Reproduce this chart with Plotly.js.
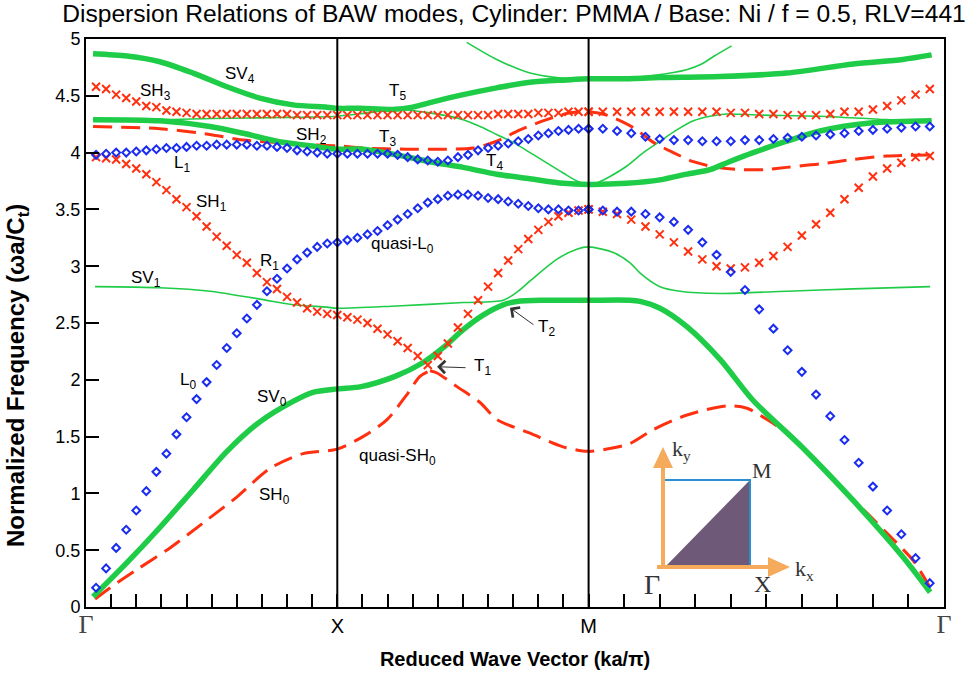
<!DOCTYPE html>
<html>
<head>
<meta charset="utf-8">
<script src="https://cdn.plot.ly/plotly-3.0.1.min.js"></script>
<style>html,body{margin:0;padding:0;background:#fff}</style>
</head>
<body>
<div id="chart" style="width:969px;height:677px"></div>
<script>
// Path coordinate along the irreducible zone: Γ = 0, X = 1, M = 2, back to Γ at 2 + √2
const K_END = 2 + Math.SQRT2;

// ---- Computed eigenfrequencies (markers): 25 samples per path segment ----
// SH3 branch (red crosses)
const sh3_GX = [4.58,4.56,4.51,4.48,4.45,4.41,4.40,4.37,4.36,4.35,4.34,4.34,4.34,4.34,4.34,4.34,4.34,4.34,4.34,4.34,4.33,4.33,4.33,4.33,4.33];
const sh3_XM = [4.33,4.33,4.33,4.33,4.33,4.33,4.33,4.33,4.33,4.33,4.33,4.33,4.33,4.33,4.33,4.34,4.34,4.34,4.34,4.35,4.35,4.35,4.36,4.36,4.36];
const sh3_MG = [4.36,4.36,4.36,4.36,4.36,4.36,4.36,4.36,4.36,4.36,4.35,4.35,4.34,4.34,4.33,4.33,4.33,4.34,4.36,4.36,4.38,4.41,4.46,4.51,4.56];
// SH1 branch (red crosses)
const sh1_GX = [3.96,3.95,3.94,3.90,3.86,3.81,3.74,3.67,3.59,3.52,3.44,3.35,3.26,3.18,3.10,3.03,2.94,2.86,2.80,2.73,2.68,2.63,2.60,2.58,2.57];
const sh1_XM = [2.55,2.53,2.50,2.45,2.40,2.34,2.28,2.21,2.13,2.21,2.32,2.46,2.58,2.70,2.82,2.94,3.05,3.15,3.24,3.32,3.39,3.44,3.47,3.49,3.50];
const sh1_MG = [3.50,3.48,3.46,3.41,3.35,3.28,3.21,3.13,3.06,3.00,2.98,2.99,3.03,3.09,3.17,3.27,3.37,3.47,3.59,3.69,3.79,3.86,3.91,3.96,3.97];
// L1 branch (blue diamonds)
const l1_GX = [3.98,3.99,4.00,4.00,4.01,4.02,4.03,4.04,4.04,4.05,4.06,4.06,4.07,4.07,4.07,4.07,4.06,4.06,4.05,4.04,4.02,4.01,4.00,3.99,3.99];
const l1_XM = [3.99,3.99,3.99,3.99,3.99,3.98,3.96,3.94,3.93,3.92,3.93,3.96,3.98,4.02,4.04,4.06,4.08,4.10,4.12,4.15,4.17,4.19,4.20,4.21,4.21];
const l1_MG = [4.21,4.21,4.19,4.17,4.14,4.12,4.11,4.11,4.10,4.10,4.10,4.11,4.11,4.12,4.13,4.14,4.15,4.16,4.17,4.19,4.20,4.21,4.22,4.23,4.23];
// L0 / quasi-L0 branch (blue diamonds)
const l0_GX = [0.17,0.34,0.52,0.68,0.85,1.02,1.19,1.35,1.52,1.67,1.83,1.98,2.13,2.28,2.41,2.54,2.66,2.78,2.89,2.98,3.06,3.12,3.17,3.20,3.21];
const l0_XM = [3.23,3.25,3.28,3.31,3.36,3.41,3.46,3.51,3.56,3.59,3.62,3.63,3.63,3.62,3.60,3.59,3.57,3.55,3.53,3.51,3.50,3.50,3.49,3.49,3.50];
const l0_MG = [3.50,3.49,3.48,3.48,3.46,3.43,3.39,3.32,3.21,3.10,2.95,2.79,2.62,2.45,2.26,2.07,1.87,1.68,1.47,1.27,1.06,0.85,0.64,0.43,0.21];

// ---- Continuous branches (k, f) ----
const sv0_k = [0.028,0.163,0.294,0.426,0.561,0.692,0.824,0.903,1.0,1.095,1.23,1.34,1.42,1.50,1.58,1.66,1.715,1.83,2.0,2.165,2.205,2.284,2.39,2.523,2.654,2.853,3.052,3.251,3.359];
const sv0_f = [0.09,0.39,0.70,1.03,1.37,1.63,1.81,1.89,1.92,1.94,2.03,2.15,2.28,2.44,2.57,2.66,2.69,2.70,2.70,2.70,2.69,2.63,2.47,2.18,1.82,1.40,0.94,0.44,0.13];

const sv4_k = [0.028,0.163,0.294,0.426,0.561,0.692,0.824,0.959,1.0,1.09,1.22,1.30,1.369,1.501,1.634,1.767,1.91,2.0,2.125,2.284,2.523,2.788,3.053,3.25,3.365];
const sv4_f = [4.87,4.85,4.80,4.70,4.58,4.48,4.42,4.40,4.39,4.39,4.38,4.40,4.44,4.51,4.57,4.62,4.64,4.65,4.65,4.66,4.67,4.70,4.78,4.82,4.86];

const t4_k = [0.028,0.294,0.493,0.626,0.759,0.891,1.0,1.103,1.236,1.369,1.501,1.634,1.767,1.899,2.0,2.15,2.284,2.39,2.483,2.56,2.655,2.788,2.921,3.12,3.365];
const t4_f = [4.29,4.28,4.23,4.17,4.10,4.06,4.03,4.03,3.98,3.92,3.87,3.81,3.77,3.73,3.72,3.73,3.76,3.81,3.85,3.92,4.00,4.10,4.19,4.26,4.28];

const t5_k = [0.028,0.3,0.5,0.8,1.0,1.12,1.236,1.369,1.501,1.568,1.634,1.70,1.767,1.833,1.899,1.953,2.0,2.04,2.085,2.151,2.218,2.284,2.351,2.417,2.483,2.55,2.682,2.921,3.186,3.365];
const t5_f = [4.29,4.29,4.30,4.31,4.32,4.35,4.38,4.35,4.29,4.23,4.16,4.09,4.00,3.91,3.82,3.75,3.72,3.74,3.79,3.88,4.00,4.10,4.20,4.28,4.32,4.34,4.33,4.32,4.29,4.28];

const top_k = [1.515,1.634,1.767,1.873,2.0,2.13,2.26,2.39,2.45,2.50,2.569];
const top_f = [4.97,4.82,4.70,4.66,4.65,4.655,4.68,4.73,4.78,4.85,4.94];

const sv1_k = [0.036,0.294,0.493,0.692,0.825,0.958,1.0,1.236,1.501,1.66,1.72,1.767,1.873,1.953,2.0,2.098,2.165,2.205,2.284,2.364,2.523,2.788,3.053,3.359];
const sv1_f = [2.82,2.81,2.78,2.71,2.66,2.64,2.63,2.65,2.68,2.70,2.78,2.87,3.06,3.15,3.17,3.12,3.03,2.94,2.82,2.78,2.76,2.78,2.80,2.82];

// SH0 rising to T1, then quasi-SH0 beyond it (dashed)
const sh0_k = [0.036,0.096,0.203,0.334,0.466,0.601,0.732,0.864,0.999,1.102,1.198,1.277,1.329,1.369];
const sh0_f = [0.07,0.17,0.33,0.52,0.74,0.97,1.22,1.35,1.39,1.50,1.65,1.87,2.03,2.08];
const qsh0_k = [1.369,1.397,1.476,1.568,1.635,1.767,1.898,1.998,2.073,2.165,2.256,2.392,2.551,2.63,2.71,2.79,2.921,3.052,3.187,3.291,3.359];
const qsh0_f = [2.08,2.06,1.94,1.80,1.65,1.53,1.41,1.37,1.39,1.44,1.56,1.69,1.77,1.75,1.65,1.53,1.25,0.95,0.65,0.41,0.17];

const sh2_k = [0.028,0.294,0.493,0.625,0.76,0.891,1.0,1.103,1.276,1.435,1.541,1.634,1.727,1.833,1.926,2.0,2.072,2.178,2.258,2.337,2.417,2.51,2.616,2.70,2.788,2.921,3.053,3.186,3.365];
const sh2_f = [4.23,4.21,4.16,4.11,4.09,4.07,4.06,4.04,4.03,4.03,4.04,4.10,4.20,4.29,4.35,4.36,4.33,4.22,4.09,4.00,3.92,3.87,3.85,3.85,3.87,3.90,3.94,3.97,3.98];

// ---- Axis tick labels ----
const symGamma = '<span style="font-family:\'Liberation Serif\',serif;font-size:26px;color:#444">Γ</span>';
const pointLabels = {0: symGamma, 10: 'X', 20: 'M', 30: symGamma};

// sample positions of the computed eigenfrequencies along the path
function sampleK() {
  const k = [];
  for (let i = 1; i <= 25; i++) k.push(0.04 * i);
  for (let i = 1; i <= 25; i++) k.push(1 + 0.04 * i);
  for (let i = 0; i < 25; i++) k.push(2 + Math.SQRT2 * 0.04 * i);
  return k;
}
const kS = sampleK();

// minor ticks: ten divisions per segment
const xTickVals = [], xTickText = [];
for (let i = 0; i <= 30; i++) {
  let v;
  if (i <= 20) v = i * 0.1;
  else v = 2 + Math.SQRT2 * 0.1 * (i - 20);
  xTickVals.push(v);
  xTickText.push(pointLabels[i] || '');
}

const RED = '#ff3010', BLUE = '#1a2cf0', GREEN = '#1fcc47';

function line(k, f, color, width, dash) {
  return {x: k, y: f, type: 'scatter', mode: 'lines', hoverinfo: 'skip',
          line: {color: color, width: width, shape: 'spline', smoothing: 0.8, dash: dash || 'solid'}};
}
function crosses(f) {
  return {x: kS, y: f, type: 'scatter', mode: 'markers', hoverinfo: 'skip',
          marker: {symbol: 'x-thin', size: 8, color: RED, line: {color: RED, width: 2}}};
}
function diamonds(f) {
  return {x: kS, y: f, type: 'scatter', mode: 'markers', hoverinfo: 'skip',
          marker: {symbol: 'diamond-open', size: 6, color: BLUE, line: {color: BLUE, width: 2}}};
}

const DASH = '19px,9px';
const traces = [
  line(sv1_k, sv1_f, GREEN, 1.6),
  line(t5_k, t5_f, GREEN, 1.6),
  line(top_k, top_f, GREEN, 1.6),
  line(sh0_k, sh0_f, RED, 3, DASH),
  line(qsh0_k, qsh0_f, RED, 3, DASH),
  line(sh2_k, sh2_f, RED, 3, DASH),
  line(sv0_k, sv0_f, GREEN, 5.5),
  line(sv4_k, sv4_f, GREEN, 5.5),
  line(t4_k, t4_f, GREEN, 5.5),
  crosses(sh3_GX.concat(sh3_XM, sh3_MG)),
  crosses(sh1_GX.concat(sh1_XM, sh1_MG)),
  diamonds(l1_GX.concat(l1_XM, l1_MG)),
  diamonds(l0_GX.concat(l0_XM, l0_MG))
];

// ---- Layout geometry (pixels of the plotting area) ----
const L = 86, R = 25, T = 39, B = 70, W = 969, H = 677;
const PW = W - L - R, PH = H - T - B;
const px = x => (x - L) / PW;          // pixel -> paper x
const py = y => (H - B - y) / PH;      // pixel -> paper y

const ORANGE = '#f5aa5c';
const shapes = [
  // high-symmetry points
  {type: 'line', xref: 'x', yref: 'paper', x0: 1, x1: 1, y0: 0, y1: 1, line: {color: '#000', width: 2}, layer: 'above'},
  {type: 'line', xref: 'x', yref: 'paper', x0: 2, x1: 2, y0: 0, y1: 1, line: {color: '#000', width: 2}, layer: 'above'},
  // Brillouin-zone inset: irreducible wedge
  {type: 'path', xref: 'paper', yref: 'paper',
   path: `M${px(665)},${py(567)} L${px(750)},${py(480)} L${px(750)},${py(567)} Z`,
   fillcolor: '#6e5a78', line: {width: 0}},
  {type: 'line', xref: 'paper', yref: 'paper', x0: px(664), y0: py(480), x1: px(751), y1: py(480), line: {color: '#2a8fd0', width: 2}},
  {type: 'line', xref: 'paper', yref: 'paper', x0: px(750), y0: py(480), x1: px(750), y1: py(567), line: {color: '#2a8fd0', width: 2}},
  // k_y axis arrow
  {type: 'line', xref: 'paper', yref: 'paper', x0: px(663), y0: py(569), x1: px(663), y1: py(466), line: {color: ORANGE, width: 4}},
  {type: 'path', xref: 'paper', yref: 'paper',
   path: `M${px(653)},${py(468)} L${px(663)},${py(447)} L${px(673)},${py(468)} Z`,
   fillcolor: ORANGE, line: {width: 0}},
  // k_x axis arrow
  {type: 'line', xref: 'paper', yref: 'paper', x0: px(657), y0: py(567), x1: px(770), y1: py(567), line: {color: ORANGE, width: 4}},
  {type: 'path', xref: 'paper', yref: 'paper',
   path: `M${px(768)},${py(557)} L${px(790)},${py(567)} L${px(768)},${py(577)} Z`,
   fillcolor: ORANGE, line: {width: 0}}
];

const LBL = {family: 'Liberation Sans, Arial, sans-serif', size: 17, color: '#000'};
const SERIF = {family: 'Liberation Serif, Times New Roman, serif', size: 22, color: '#333'};
function label(text, k, f) {
  return {text: text, x: k, y: f, xref: 'x', yref: 'y', showarrow: false, font: LBL,
          xanchor: 'center', yanchor: 'middle'};
}
function inset(text, x, y, size) {
  return {text: text, x: px(x), y: py(y), xref: 'paper', yref: 'paper', showarrow: false,
          xanchor: 'center', yanchor: 'middle',
          font: Object.assign({}, SERIF, {size: size || 22})};
}
function pointer(k, f, ax, ay) {
  return {text: '', x: k, y: f, xref: 'x', yref: 'y', showarrow: true, ax: ax, ay: ay,
          arrowhead: 4, arrowsize: 2.4, arrowwidth: 1, arrowcolor: '#333', standoff: 0};
}

const annotations = [
  label('SV<sub>4</sub>', 0.613, 4.687),
  label('SH<sub>3</sub>', 0.275, 4.537),
  label('SH<sub>2</sub>', 0.899, 4.15),
  label('L<sub>1</sub>', 0.382, 3.90),
  label('SH<sub>1</sub>', 0.501, 3.56),
  label('T<sub>5</sub>', 1.238, 4.53),
  label('T<sub>3</sub>', 1.198, 4.13),
  label('T<sub>4</sub>', 1.624, 3.92),
  label('R<sub>1</sub>', 0.732, 3.04),
  label('SV<sub>1</sub>', 0.239, 2.89),
  label('L<sub>0</sub>', 0.406, 1.99),
  label('SV<sub>0</sub>', 0.740, 1.84),
  label('quasi-L<sub>0</sub>', 1.261, 3.19),
  label('T<sub>2</sub>', 1.834, 2.46),
  label('T<sub>1</sub>', 1.576, 2.11),
  label('quasi-SH<sub>0</sub>', 1.238, 1.32),
  label('SH<sub>0</sub>', 0.752, 0.98),
  pointer(1.397, 2.115, 30, 1),
  pointer(1.687, 2.634, 25, 18),
  inset('k<sub>y</sub>', 681, 450),
  inset('M', 762, 470),
  inset('Γ', 652, 584, 28),
  inset('X', 762, 584, 24),
  inset('k<sub>x</sub>', 804, 570),
  // frequency axis title, set beside the tick labels
  {text: 'Normalized Frequency (ωa/C<sub>t</sub>)', textangle: -90,
   x: px(18), y: py(376), xref: 'paper', yref: 'paper', showarrow: false,
   xanchor: 'center', yanchor: 'middle',
   font: {family: 'Liberation Sans, Arial, sans-serif', size: 24, weight: 'bold', color: '#000'}}
];

const layout = {
  width: W, height: H,
  margin: {l: L, r: R, t: T, b: B, pad: 0},
  paper_bgcolor: '#fff', plot_bgcolor: '#fff',
  showlegend: false,
  font: {family: 'Liberation Sans, Arial, sans-serif', color: '#000'},
  title: {
    text: 'Dispersion Relations of BAW modes, Cylinder: PMMA / Base: Ni / f = 0.5, RLV=441',
    font: {family: 'Liberation Sans, Arial, sans-serif', size: 24.6, color: '#000'},
    xref: 'container', x: 514 / W, xanchor: 'center',
    yref: 'container', y: 1 - 13 / H, yanchor: 'middle'
  },
  xaxis: {
    range: [0, K_END], showgrid: false, zeroline: false,
    showline: true, mirror: true, linecolor: '#000', linewidth: 2,
    ticks: 'inside', ticklen: 13, tickwidth: 2, tickcolor: '#000',
    tickmode: 'array', tickvals: xTickVals, ticktext: xTickText,
    tickfont: {size: 20, color: '#000'},
    title: {text: 'Reduced Wave Vector (ka/π)', standoff: 14,
            font: {size: 20, weight: 'bold', color: '#000'}}
  },
  yaxis: {
    range: [0, 5], showgrid: false, zeroline: false,
    showline: true, mirror: true, linecolor: '#000', linewidth: 2,
    ticks: 'inside', ticklen: 13, tickwidth: 2, tickcolor: '#000',
    tickmode: 'linear', tick0: 0, dtick: 0.5,
    tickfont: {size: 18, color: '#000'}
  },
  shapes: shapes,
  annotations: annotations
};

Plotly.newPlot('chart', traces, layout, {displayModeBar: false, staticPlot: true});
</script>
</body>
</html>
